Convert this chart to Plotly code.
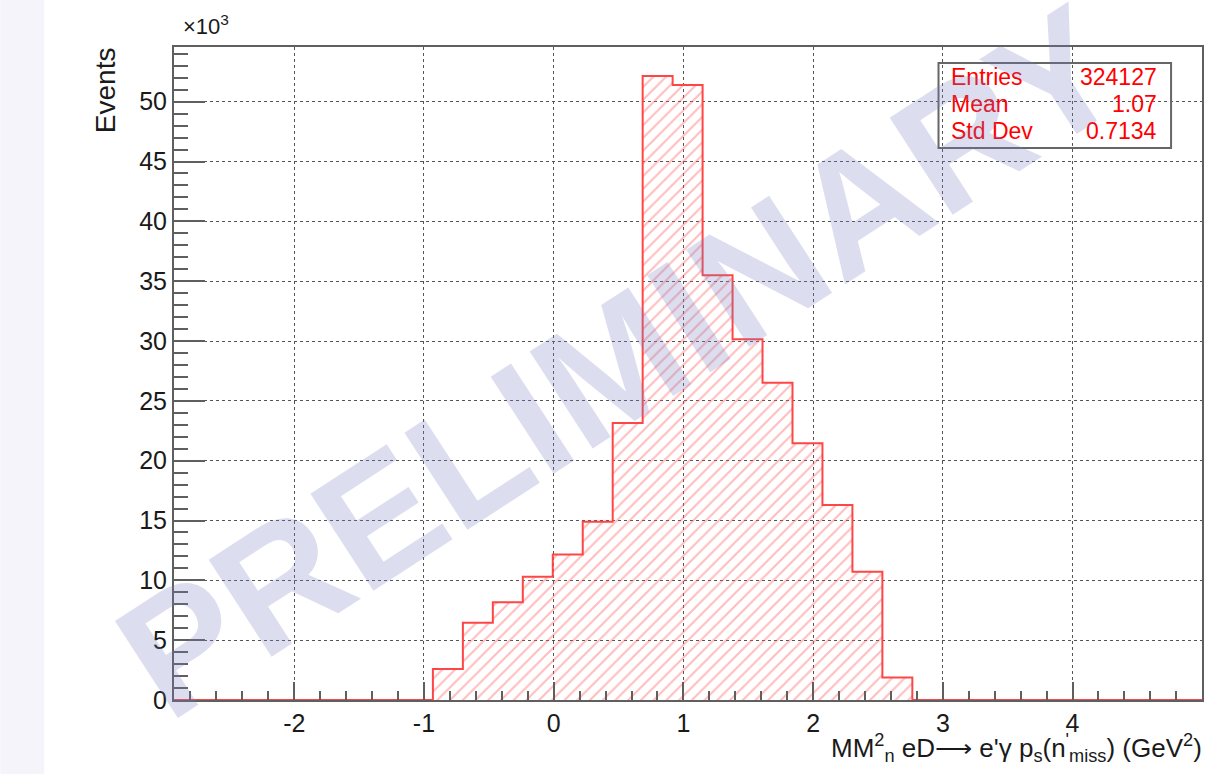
import plotly.graph_objects as go

# Histogram binning (GeV^2) and bin contents (in units of 10^3 events)
bin_low = -0.931
bin_width = 0.231
counts_k = [2.59, 6.46, 8.16, 10.30, 12.15, 14.90, 23.15, 52.15,
            51.40, 35.50, 30.14, 26.52, 21.45, 16.30, 10.72, 1.87]

x_range = [-2.927, 4.998]
y_range = [0, 54.57]
x_ticks = [-2, -1, 0, 1, 2, 3, 4]
x_tick_text = ["-2", "-1", "0", "1", "2", "3", "4"]

stat_names = ["Entries", "Mean", "Std Dev"]
stat_values = ["324127", "1.07", "0.7134"]

# Canvas geometry (pixels)
W, H = 1210, 774
L, R, T, B = 174, 1204, 47, 700


def px(xp):
    return (xp - L) / (R - L)


def py(yp):
    return (B - yp) / (B - T)


edges = [bin_low + i * bin_width for i in range(len(counts_k) + 1)]
step_x = [x_range[0]] + edges + [x_range[1]]
step_y = [0] + counts_k + [0, 0]

RED = "rgb(255,70,70)"
FONT = "Liberation Sans, Arial, Helvetica, sans-serif"

fig = go.Figure()

fig.add_trace(go.Scatter(
    x=step_x, y=step_y, mode="lines",
    line=dict(shape="hv", color=RED, width=2),
    fill="tozeroy", fillcolor="rgba(0,0,0,0)",
    fillpattern=dict(shape="/", size=9, solidity=0.22,
                     fgcolor="rgba(255,95,95,0.85)",
                     bgcolor="rgba(0,0,0,0)"),
    hoverinfo="skip", showlegend=False,
))

axis_common = dict(
    showline=True, linecolor="#5f5f5f", linewidth=2, mirror=True,
    showgrid=True, gridcolor="#555555", gridwidth=1, griddash="dot",
    zeroline=False, ticks="inside", tickcolor="#5f5f5f", tickwidth=2,
    tickfont=dict(family=FONT, size=25, color="#1a1a1a"),
)

fig.update_xaxes(
    range=x_range, tickmode="array", tickvals=x_ticks, ticktext=x_tick_text,
    ticklen=18,
    minor=dict(tickmode="linear", dtick=0.2, tick0=0, ticks="inside",
               ticklen=9, tickcolor="#5f5f5f", tickwidth=2, showgrid=False),
    **axis_common,
)
fig.update_yaxes(
    range=y_range, tickmode="linear", tick0=0, dtick=5, ticklen=31,
    minor=dict(dtick=1, tick0=0, ticks="inside", ticklen=14,
               tickcolor="#5f5f5f", tickwidth=2, showgrid=False),
    **axis_common,
)

shapes = [
    # light side strip of the page
    dict(type="rect", xref="paper", yref="paper",
         x0=px(0), x1=px(44), y0=py(H), y1=py(0),
         fillcolor="#f4f4fa", line=dict(width=0), layer="below"),
    # statistics box
    dict(type="rect", xref="paper", yref="paper",
         x0=px(940), x1=px(1173), y0=py(148), y1=py(63),
         fillcolor="rgba(0,0,0,0)", line=dict(color="#666666", width=2)),
]

annotations = []
for i, (name, val) in enumerate(zip(stat_names, stat_values)):
    yy = py(77 + 27 * i)
    annotations.append(dict(x=px(951), y=yy, xref="paper", yref="paper",
                            text=name, showarrow=False, xanchor="left",
                            yanchor="middle",
                            font=dict(family=FONT, size=23, color="red")))
    annotations.append(dict(x=px(1161), y=yy, xref="paper", yref="paper",
                            text=val, showarrow=False, xanchor="right",
                            yanchor="middle",
                            font=dict(family=FONT, size=23, color="red")))

annotations += [
    dict(x=px(181), y=py(25), xref="paper", yref="paper",
         text="×10<sup>3</sup>", showarrow=False, xanchor="left",
         yanchor="middle", font=dict(family=FONT, size=22, color="#1a1a1a")),
    dict(x=px(105), y=py(90), xref="paper", yref="paper",
         text="Events", showarrow=False, textangle=-90,
         xanchor="center", yanchor="middle",
         font=dict(family=FONT, size=28, color="#1a1a1a")),
    dict(x=px(1206), y=py(748), xref="paper", yref="paper",
         text="MM<sup>2</sup><sub>n</sub> eD⟶ e'γ p<sub>s</sub>(n<sup>'</sup><sub>miss</sub>) (GeV<sup>2</sup>)",
         showarrow=False, xanchor="right", yanchor="middle",
         font=dict(family=FONT, size=26, color="#1a1a1a")),
    # watermark
    dict(x=px(620), y=py(362), xref="paper", yref="paper",
         text="<b>PRELIMINARY</b>", showarrow=False, textangle=-33,
         xanchor="center", yanchor="middle",
         font=dict(family=FONT, size=168, color="rgba(120,128,192,0.26)")),
]

fig.update_layout(
    width=W, height=H, autosize=False,
    margin=dict(l=L, r=W - R, t=T, b=H - B, pad=0),
    paper_bgcolor="white", plot_bgcolor="white",
    shapes=shapes, annotations=annotations, showlegend=False,
)

fig.write_html("out.html")
